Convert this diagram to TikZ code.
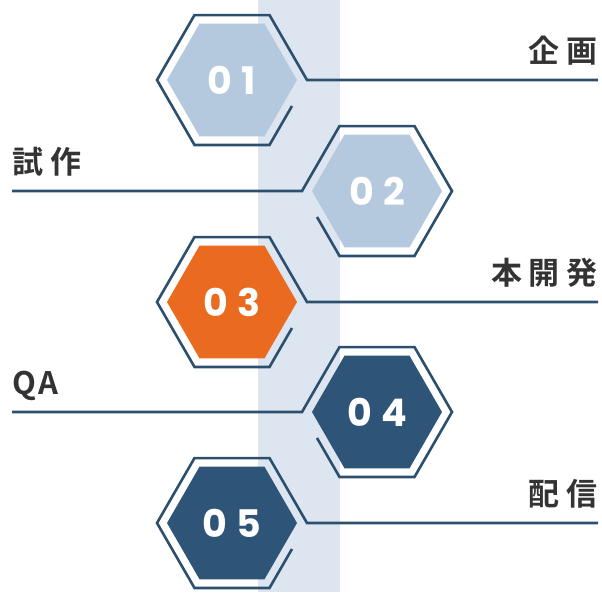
\documentclass[tikz,border=0pt]{standalone}
\usepackage{fontspec}
\setmainfont{Noto Sans}
\newfontfamily\jpfont{Noto Sans CJK JP}[BoldFont={* Bold}]
\newfontfamily\numfont{Poppins}[BoldFont={* Bold}]
\usetikzlibrary{shapes.geometric, calc, positioning}
\definecolor{bandblue}{HTML}{DCE5F0}
\definecolor{navy}{HTML}{2D4F6E}
\definecolor{paleblue}{HTML}{B4C9DD}
\definecolor{accentorange}{HTML}{EA6A20}
\definecolor{deepblue}{HTML}{2E5478}
\definecolor{labelgray}{HTML}{333333}
\newcommand{\lsp}{\hspace{0.22em}}

\begin{document}
\begin{tikzpicture}[x=1pt, y=-1pt,
  ring/.style={regular polygon, regular polygon sides=6, minimum size=150pt, inner sep=0pt, outer sep=0pt},
  hexfill/.style={regular polygon, regular polygon sides=6, minimum size=130pt, inner sep=0pt, outer sep=0pt, text=white, font=\numfont\bfseries\fontsize{38}{38}\selectfont},
  outline/.style={draw=navy, line width=2.6pt, line join=miter},
  stage/.style={font=\jpfont\bfseries\fontsize{31}{31}\selectfont, text=labelgray, inner sep=0pt}
]
  \useasboundingbox (0,0) rectangle (602,592);
  \fill[bandblue] (258,0) rectangle (340,592);

  % hexagons
  \node[ring] (ring1) at (232,80) {};
  \node[ring] (ring2) at (377,191) {};
  \node[ring] (ring3) at (232,302) {};
  \node[ring] (ring4) at (377,412) {};
  \node[ring] (ring5) at (232,523) {};
  \node[hexfill, fill=paleblue] (hex1) at (ring1.center) {0\hspace{0.25em}1};
  \node[hexfill, fill=paleblue] (hex2) at (ring2.center) {0\hspace{0.25em}2};
  \node[hexfill, fill=accentorange] (hex3) at (ring3.center) {0\hspace{0.25em}3};
  \node[hexfill, fill=deepblue] (hex4) at (ring4.center) {0\hspace{0.25em}4};
  \node[hexfill, fill=deepblue] (hex5) at (ring5.center) {0\hspace{0.25em}5};

  % line ends
  \coordinate (e1) at (598,80);
  \coordinate (s2) at (12,191);
  \coordinate (e3) at (598,302);
  \coordinate (s4) at (12,412);
  \coordinate (e5) at (598,523);

  % outlines with leader lines
  \draw[outline] ($(ring1.0)!0.4!(ring1.300)$) -- (ring1.300) -- (ring1.240) -- (ring1.180) -- (ring1.120) -- (ring1.60) -- (ring1.0) -- (e1);
  \draw[outline] (s2) -- (ring2.180) -- (ring2.120) -- (ring2.60) -- (ring2.0) -- (ring2.300) -- (ring2.240) -- ($(ring2.240)!0.6!(ring2.180)$);
  \draw[outline] ($(ring3.0)!0.4!(ring3.300)$) -- (ring3.300) -- (ring3.240) -- (ring3.180) -- (ring3.120) -- (ring3.60) -- (ring3.0) -- (e3);
  \draw[outline] (s4) -- (ring4.180) -- (ring4.120) -- (ring4.60) -- (ring4.0) -- (ring4.300) -- (ring4.240) -- ($(ring4.240)!0.6!(ring4.180)$);
  \draw[outline] ($(ring5.0)!0.4!(ring5.300)$) -- (ring5.300) -- (ring5.240) -- (ring5.180) -- (ring5.120) -- (ring5.60) -- (ring5.0) -- (e5);

  % labels
  \node[stage, anchor=base east] (t1) at ($(e1)+(0,-18)$) {企\lsp{}画};
  \node[stage, anchor=base west] (t2) at ($(s2)+(0,-18)$) {試\lsp{}作};
  \node[stage, anchor=base east] (t3) at ($(e3)+(0,-18)$) {本\lsp{}開\lsp{}発};
  \node[stage, anchor=base west] (t4) at ($(s4)+(0,-18)$) {Q\hspace{0.08em}A};
  \node[stage, anchor=base east] (t5) at ($(e5)+(0,-18)$) {配\lsp{}信};
\end{tikzpicture}
\end{document}
